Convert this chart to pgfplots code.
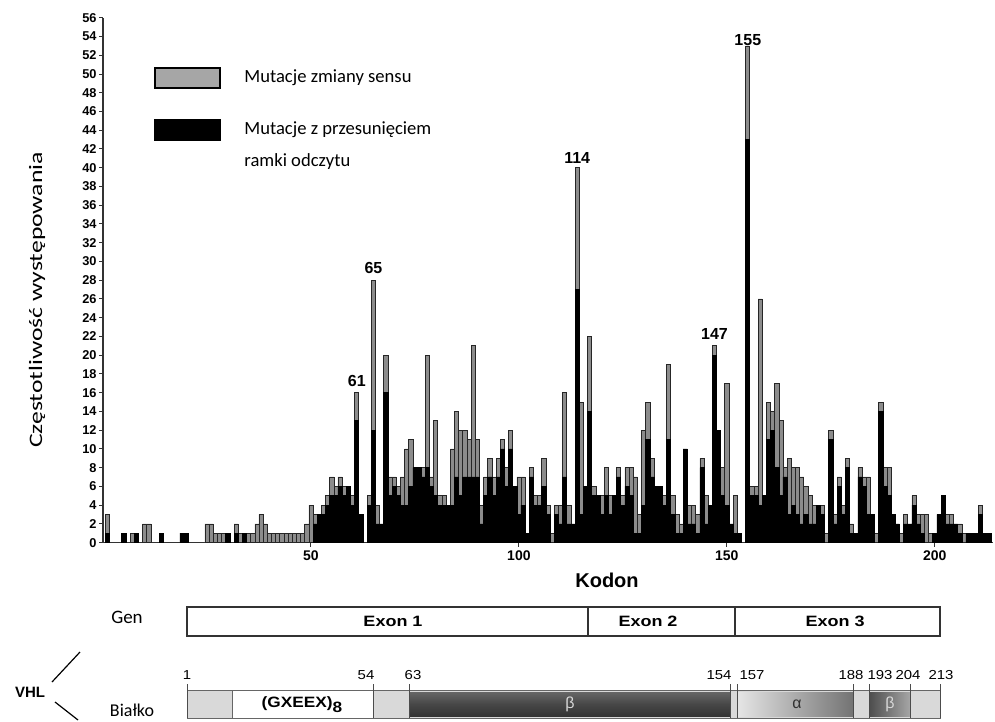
\documentclass[border=0pt]{standalone}
\usepackage{pgfplots}
\pgfplotsset{compat=1.18}
\usepackage{pgfplotstable}
\usepackage{graphicx}
\usepackage{fontspec}
\setmainfont{Carlito}
\newfontfamily\arial{Liberation Sans}

\pgfplotstableread{
x fs ms
1 1 2
5 1 0
7 0 1
8 1 0
10 0 2
11 0 2
14 1 0
19 1 0
20 1 0
25 0 2
26 0 2
27 0 1
28 0 1
29 0 1
30 1 0
32 1 1
33 0 1
34 1 0
35 0 1
36 0 1
37 0 2
38 0 3
39 0 2
40 0 1
41 0 1
42 0 1
43 0 1
44 0 1
45 0 1
46 0 1
47 0 1
48 0 1
49 0 2
50 0 4
51 2 1
52 3 0
53 3 1
54 4 1
55 5 2
56 5 1
57 6 1
58 5 1
59 6 0
60 4 1
61 13 3
62 3 0
64 4 1
65 12 16
66 2 2
67 2 0
68 16 4
69 5 2
70 6 1
71 5 1
72 4 3
73 4 6
74 6 5
75 8 0
76 8 0
77 7 1
78 8 12
79 6 1
80 5 8
81 4 1
82 4 1
83 4 0
84 4 6
85 7 7
86 5 7
87 7 5
88 7 4
89 7 14
90 7 4
91 2 2
92 5 2
93 7 2
94 5 2
95 7 2
96 10 1
97 6 2
98 10 2
99 6 0
100 3 4
101 4 3
102 1 0
103 7 1
104 4 1
105 4 1
106 6 3
107 3 1
108 0 1
109 3 1
110 2 2
111 7 9
112 2 2
113 2 0
114 27 13
115 3 12
116 6 0
117 14 8
118 5 1
119 5 0
120 3 2
121 5 3
122 3 2
123 5 0
124 7 1
125 4 1
126 6 2
127 5 3
128 1 6
129 1 2
130 4 8
131 11 4
132 7 2
133 6 0
134 6 0
135 4 1
136 11 8
137 3 2
138 1 2
139 1 1
140 10 0
141 2 2
142 2 2
143 1 2
144 8 1
145 2 3
146 4 0
147 20 1
148 12 0
149 5 3
150 4 13
151 2 0
152 1 4
153 1 0
155 43 10
156 5 1
157 5 1
158 4 22
159 5 0
160 11 4
161 12 2
162 8 9
163 5 8
164 7 1
165 3 6
166 4 4
167 3 5
168 2 5
169 3 3
170 2 3
171 2 2
172 4 0
173 3 1
174 0 1
175 11 1
176 2 1
177 6 1
178 3 1
179 8 1
180 1 1
181 1 0
182 7 1
183 6 1
184 3 4
185 3 0
186 0 1
187 14 1
188 6 2
189 5 3
190 3 0
191 2 0
192 0 1
193 2 1
194 2 0
195 4 1
196 2 1
197 1 2
198 0 3
199 0 1
200 1 0
201 3 0
202 5 0
203 2 1
204 2 1
205 2 0
206 1 1
207 0 1
208 1 0
209 1 0
210 1 0
211 3 1
212 1 0
213 1 0
}\vhldata

\tikzset{
  peaklab/.style={font=\arial\bfseries\fontsize{8}{8}\selectfont, anchor=south, inner sep=0pt},
  exlab/.style={font=\arial\bfseries\fontsize{7.5}{8}\selectfont},
  numlab/.style={font=\arial\fontsize{6.5}{7}\selectfont, inner sep=0pt},
}

\begin{document}
\begin{tikzpicture}
\useasboundingbox (0,0) rectangle (497.5pt,361pt);
\begin{axis}[
  at={(51.5pt,89.7pt)}, anchor=south west,
  scale only axis, width=445pt, height=262.4pt,
  xmin=0, xmax=214, ymin=0, ymax=56,
  axis x line=bottom, axis y line=left,
  axis line style={-, line width=0.7pt, black!80},
  ybar stacked, bar width=1,
  xtick={50,100,150,200}, ytick={0,2,...,56},
  tick align=outside, major tick length=2pt,
  tick style={black!80, line width=0.5pt},
  /pgf/number format/assume math mode=true,
  yticklabel style={font=\arial\bfseries\fontsize{6.4}{6.4}\selectfont, inner sep=1pt},
  xticklabel style={font=\arial\bfseries\fontsize{7}{7}\selectfont, inner sep=2pt},
]
\addplot[fill=black, draw=black, line width=0.3pt] table[x=x,y=fs]{\vhldata};
\addplot[fill=black!45, draw=black!85, line width=0.3pt] table[x=x,y=ms]{\vhldata};
\end{axis}

\begin{axis}[
  at={(0pt,0pt)}, anchor=south west,
  scale only axis, width=497.5pt, height=361pt,
  xmin=0, xmax=995, ymin=0, ymax=722, y dir=reverse,
  hide axis, clip=false,
]
% peak labels
\node[peaklab] at (356.8,387) {61};
\node[peaklab] at (373.4,274) {65};
\node[peaklab] at (577.2,164) {114};
\node[peaklab] at (714.5,340) {147};
\node[peaklab] at (747.8,46) {155};
% legend
\draw[fill=black!35, line width=0.6pt] (155,68) rectangle (220,88);
\draw[fill=black, line width=0.6pt] (155,120) rectangle (220,140);
\node[anchor=west, inner sep=0pt, font=\fontsize{9.3}{16}\selectfont] at (244,78) {Mutacje zmiany sensu};
\node[anchor=west, align=left, inner sep=0pt, font=\fontsize{9.3}{16}\selectfont] at (244,146) {Mutacje z przesunięciem\\ramki odczytu};
% y label
\node[rotate=90, font=\fontsize{9.5}{10}\selectfont] at (37,300) {\scalebox{1.35}[1]{Częstotliwość występowania}};
% x label
\node[font=\arial\bfseries\fontsize{10}{10}\selectfont] at (607,580) {Kodon};
% gene
\node[font=\fontsize{9.5}{10}\selectfont] at (127,617) {Gen};
\draw[line width=0.6pt, black!80] (187,607) rectangle (940,636);
\draw[line width=0.6pt, black!80] (588,607) -- (588,636);
\draw[line width=0.6pt, black!80] (735,607) -- (735,636);
\node[exlab] at (393,621) {\scalebox{1.2}[1]{Exon 1}};
\node[exlab] at (648,621) {\scalebox{1.2}[1]{Exon 2}};
\node[exlab] at (835,621) {\scalebox{1.2}[1]{Exon 3}};
\node[exlab] at (30,692) {VHL};
\draw[line width=0.6pt] (52,682) -- (80,652);
\draw[line width=0.6pt] (55,702) -- (78,720);
% protein
\node[font=\fontsize{9}{10}\selectfont, inner sep=0pt] at (132,710) {Białko};
\draw[fill=black!15, draw=black!60, line width=0.4pt] (187,690) rectangle (940,718);
\draw[fill=white, draw=black!60, line width=0.4pt] (232,690) rectangle (373,718);
\shade[top color=black!60, bottom color=black!80, middle color=black!72] (409,692) rectangle (730,716);
\shade[left color=black!10, right color=black!55] (737,692) rectangle (853,716);
\shade[left color=black!70, right color=black!35] (869,692) rectangle (910,716);
\draw[line width=0.4pt, black!70] (187,684) -- (187,718);
\draw[line width=0.4pt, black!70] (373,684) -- (373,718);
\draw[line width=0.4pt, black!70] (409,684) -- (409,718);
\draw[line width=0.4pt, black!70] (730,684) -- (730,718);
\draw[line width=0.4pt, black!70] (737,684) -- (737,718);
\draw[line width=0.4pt, black!70] (853,684) -- (853,718);
\draw[line width=0.4pt, black!70] (869,684) -- (869,718);
\draw[line width=0.4pt, black!70] (910,684) -- (910,718);
\draw[line width=0.4pt, black!70] (940,684) -- (940,718);
\node[exlab] at (302,705) {\scalebox{1.15}[1]{(GXEEX)\raisebox{-2.5pt}{8}}};
\node[font=\arial\fontsize{8}{8}\selectfont, text=black!15] at (570,704) {β};
\node[font=\arial\fontsize{8}{8}\selectfont, text=black!80] at (797,704) {α};
\node[font=\arial\fontsize{8}{8}\selectfont, text=black!15] at (890,704) {β};
\node[numlab] at (187,675) {\scalebox{1.15}[1]{1}};
\node[numlab] at (366,675) {\scalebox{1.15}[1]{54}};
\node[numlab] at (413,675) {\scalebox{1.15}[1]{63}};
\node[numlab] at (719,675) {\scalebox{1.15}[1]{154}};
\node[numlab] at (752,675) {\scalebox{1.15}[1]{157}};
\node[numlab] at (851,675) {\scalebox{1.15}[1]{188}};
\node[numlab] at (880,675) {\scalebox{1.15}[1]{193}};
\node[numlab] at (908,675) {\scalebox{1.15}[1]{204}};
\node[numlab] at (941,675) {\scalebox{1.15}[1]{213}};
\end{axis}
\end{tikzpicture}
\end{document}
